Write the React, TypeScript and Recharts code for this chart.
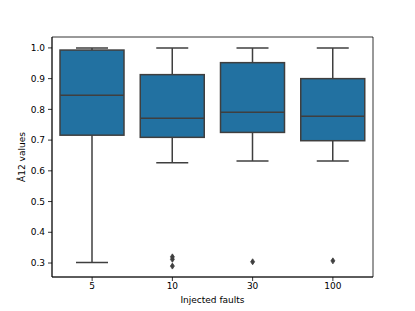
import React from 'react';
import { ComposedChart, Bar, Scatter, XAxis, YAxis, Label, ReferenceArea } from 'recharts';

const categories = ['5', '10', '30', '100'];
const whiskerLow = [0.302, 0.626, 0.632, 0.632];
const q1 = [0.716, 0.709, 0.725, 0.698];
const median = [0.846, 0.771, 0.791, 0.778];
const q3 = [0.993, 0.913, 0.952, 0.9];
const whiskerHigh = [1.0, 1.0, 1.0, 1.0];
const outliers: number[][] = [[], [0.32, 0.312, 0.29], [0.304], [0.307]];
const yTicks = [0.3, 0.4, 0.5, 0.6, 0.7, 0.8, 0.9, 1.0];
const yDomain: [number, number] = [0.2545, 1.0355];

const data = categories.map((cat, i) => ({
  cat,
  lo: whiskerLow[i],
  q1: q1[i],
  med: median[i],
  q3: q3[i],
  hi: whiskerHigh[i],
  o0: outliers[i][0] ?? null,
  o1: outliers[i][1] ?? null,
  o2: outliers[i][2] ?? null,
}));

const BOX_FILL = '#2271a1';
const LINE = '#3f3f3f';
const FONT = 'DejaVu Sans';

const BoxShape = (props: any) => {
  const { x, y, width, height, payload } = props;
  if (payload == null || x == null) return null;
  const top = Math.min(y, y + height);
  const bot = Math.max(y, y + height);
  const lo = payload.lo;
  const hi = payload.hi;
  const toPx = (v: number) => bot - ((v - lo) / (hi - lo)) * (bot - top);
  const cx = x + width / 2;
  const bw = width * 0.8;
  const bx = cx - bw / 2;
  const capHalf = width * 0.2;
  const yq1 = toPx(payload.q1);
  const yq3 = toPx(payload.q3);
  const ymed = toPx(payload.med);
  return (
    <g>
      <line x1={cx} x2={cx} y1={bot} y2={yq1} stroke={LINE} strokeWidth={1.5} />
      <line x1={cx} x2={cx} y1={top} y2={yq3} stroke={LINE} strokeWidth={1.5} />
      <line x1={cx - capHalf} x2={cx + capHalf} y1={bot} y2={bot} stroke={LINE} strokeWidth={1.5} />
      <line x1={cx - capHalf} x2={cx + capHalf} y1={top} y2={top} stroke={LINE} strokeWidth={1.5} />
      <rect x={bx} y={yq3} width={bw} height={yq1 - yq3} fill={BOX_FILL} stroke={LINE} strokeWidth={1.5} />
      <line x1={bx} x2={bx + bw} y1={ymed} y2={ymed} stroke={LINE} strokeWidth={1.5} />
    </g>
  );
};

const Diamond = (props: any) => {
  const { cx, cy, payload, dataKey } = props;
  if (cx == null || cy == null || !isFinite(cx) || !isFinite(cy)) return null;
  if (payload && dataKey && payload[dataKey] == null) return null;
  const h = 3;
  const w = 2;
  return (
    <path
      d={`M${cx},${cy - h} L${cx + w},${cy} L${cx},${cy + h} L${cx - w},${cy} Z`}
      fill={LINE}
      stroke={LINE}
      strokeWidth={0.8}
    />
  );
};

export default function App() {
  return (
    <div style={{ position: 'absolute', left: 0, top: 0, width: 415, height: 311, background: '#fff' }}>
      <ComposedChart
        width={415}
        height={311}
        data={data}
        margin={{ top: 37, right: 42, bottom: 0, left: 0 }}
        barCategoryGap={0}
        barGap={0}
      >
        <XAxis
          dataKey="cat"
          height={34}
          tickSize={4}
          tickMargin={2}
          tick={{ fontSize: 9, fontFamily: FONT, fill: '#000' }}
          tickLine={{ stroke: '#000', strokeWidth: 0.8 }}
          axisLine={{ stroke: '#000', strokeWidth: 0.8 }}
        >
          <Label value="Injected faults" position="insideBottom" offset={8} style={{ fontSize: 9, fontFamily: FONT, fill: '#000' }} />
        </XAxis>
        <YAxis
          type="number"
          domain={yDomain}
          ticks={yTicks}
          allowDataOverflow
          width={52}
          tickSize={4}
          tickMargin={3}
          tickFormatter={(v: number) => v.toFixed(1)}
          tick={{ fontSize: 9, fontFamily: FONT, fill: '#000' }}
          tickLine={{ stroke: '#000', strokeWidth: 0.8 }}
          axisLine={{ stroke: '#000', strokeWidth: 0.8 }}
        >
          <Label
            value="Â12 values"
            angle={-90}
            position="insideLeft"
            offset={22}
            style={{ fontSize: 9, fontFamily: FONT, fill: '#000', textAnchor: 'middle' }}
          />
        </YAxis>
        <ReferenceArea
          x1={categories[0]}
          x2={categories[categories.length - 1]}
          y1={yDomain[0]}
          y2={yDomain[1]}
          fill="none"
          stroke="#000"
          strokeWidth={0.8}
          ifOverflow="visible"
        />
        <Bar dataKey={(d: any) => [d.lo, d.hi]} shape={BoxShape} isAnimationActive={false} />
        <Scatter dataKey="o0" shape={<Diamond dataKey="o0" />} isAnimationActive={false} />
        <Scatter dataKey="o1" shape={<Diamond dataKey="o1" />} isAnimationActive={false} />
        <Scatter dataKey="o2" shape={<Diamond dataKey="o2" />} isAnimationActive={false} />
      </ComposedChart>
    </div>
  );
}
